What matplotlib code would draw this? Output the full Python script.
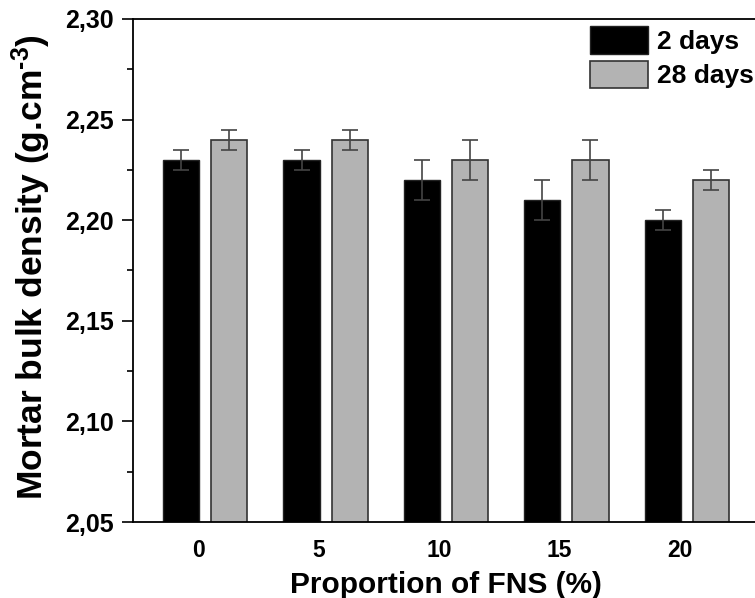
import matplotlib
matplotlib.use("Agg")
import matplotlib.pyplot as plt
import numpy as np
from matplotlib.ticker import MultipleLocator

plt.rcParams['font.family'] = ['Liberation Sans', 'DejaVu Sans']
plt.rcParams['font.weight'] = 'bold'
plt.rcParams['mathtext.fontset'] = 'custom'
plt.rcParams['mathtext.rm'] = 'Liberation Sans:bold'
plt.rcParams['mathtext.bf'] = 'Liberation Sans:bold'
plt.rcParams['mathtext.default'] = 'rm'

categories = ['0', '5', '10', '15', '20']
series_names = ['2 days', '28 days']
days2 = [2.23, 2.23, 2.22, 2.21, 2.20]
days2_err = [0.005, 0.005, 0.01, 0.01, 0.005]
days28 = [2.24, 2.24, 2.23, 2.23, 2.22]
days28_err = [0.005, 0.005, 0.01, 0.01, 0.005]
y_ticks = [2.05, 2.10, 2.15, 2.20, 2.25, 2.30]
y_tick_labels = ['2,05', '2,10', '2,15', '2,20', '2,25', '2,30']

fig = plt.figure(figsize=(7.55, 5.98), dpi=100)
# axes extend slightly beyond the right edge of the image, like the reference
ax = fig.add_axes([133/755, (598-522)/598, (759-133)/755, (522-19)/598])

x = np.arange(len(categories))
w = 0.3
off = 0.2
ekw = dict(ecolor='#444444', elinewidth=1.2, capsize=6, capthick=1.2)
ax.bar(x - off, days2, w, color='black', edgecolor='#222222', linewidth=1,
       yerr=days2_err, error_kw=ekw, label=series_names[0])
ax.bar(x + off, days28, w, color='#b3b3b3', edgecolor='#333333', linewidth=1.2,
       yerr=days28_err, error_kw=ekw, label=series_names[1])

ax.set_xlim(-0.6, 4.6)
ax.set_ylim(2.05, 2.30)
ax.set_yticks(y_ticks)
ax.set_yticklabels(y_tick_labels, fontsize=18, fontweight='bold')
ax.yaxis.set_minor_locator(MultipleLocator(0.025))
ax.set_xticks(x - 0.06)
ax.set_xticklabels(categories, fontsize=16.5, fontweight='bold')
ax.tick_params(axis='x', length=0, pad=12)
ax.tick_params(axis='y', which='major', direction='out', length=8, width=1.2, pad=6)
ax.tick_params(axis='y', which='minor', direction='out', length=4.5, width=1.2)
for s in ax.spines.values():
    s.set_linewidth(1.3)

ax.set_xlabel('Proportion of FNS (%)', fontsize=21.5, fontweight='bold', labelpad=7)
ax.set_ylabel('Mortar bulk density (g.cm$^{\\text{-3}}$)', fontsize=25.5, fontweight='bold')
ax.yaxis.set_label_coords(-80/626, 0.507)

leg = fig.legend(loc='upper left', bbox_to_anchor=(590/755, 1 - 26/598), frameon=False,
                 fontsize=19, handlelength=2.2, handleheight=1.25, labelspacing=0.25,
                 handletextpad=0.35, borderpad=0, borderaxespad=0)
for t in leg.get_texts():
    t.set_fontweight('bold')

fig.savefig('out.png', dpi=100)
